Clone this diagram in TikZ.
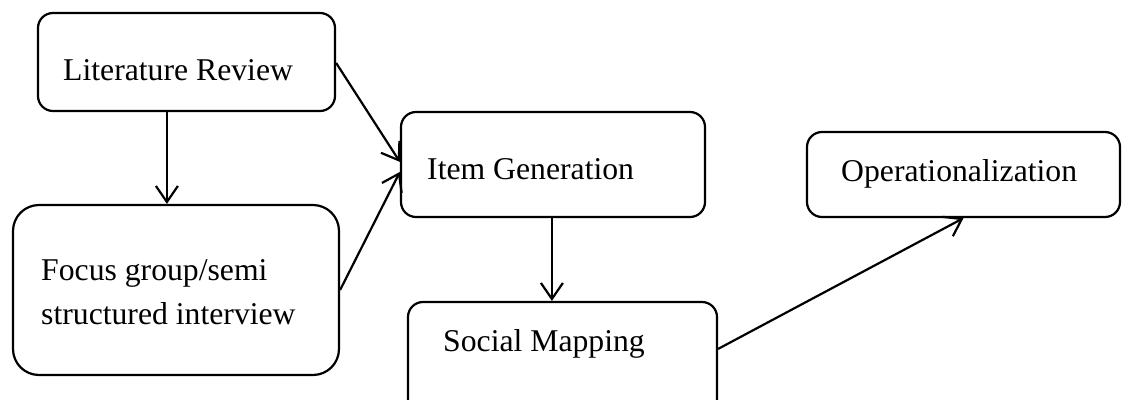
\documentclass[tikz,border=0pt]{standalone}
\usepackage{fontspec}
\setmainfont{Liberation Serif}
\usetikzlibrary{arrows.meta,calc}
\begin{document}
\begin{tikzpicture}[x=1pt,y=-1pt,
  box/.style={draw,line width=2.2pt,rectangle,rounded corners=15pt,inner sep=0pt},
  lbl/.style={anchor=base west,inner sep=0pt,font=\fontsize{31.7}{44}\selectfont},
  conn/.style={line width=2.2pt,-{Straight Barb[length=16pt,width=22pt,line width=2.2pt]}}]
\clip (0,0) rectangle (1122,399);
\useasboundingbox (0,0) rectangle (1122,399);
\node[box,minimum width=297pt,minimum height=98pt] (lit) at (186.5,62) {};
\node[box,rounded corners=26pt,minimum width=326pt,minimum height=170pt] (focus) at (176,290) {};
\node[box,minimum width=304pt,minimum height=105pt] (item) at (553,164.5) {};
\node[box,minimum width=309pt,minimum height=118pt] (social) at (562.5,361) {};
\node[box,minimum width=313pt,minimum height=85pt] (oper) at (963.5,174.5) {};
\node[lbl] (tlit) at (63,80) {Literature Review};
\node[lbl] (tfocus1) at (41,280) {Focus group/semi};
\node[lbl] (tfocus2) at (41,324) {structured interview};
\node[lbl] (titem) at (427,179) {Item Generation};
\node[lbl] (tsocial) at (443,351) {Social Mapping};
\node[lbl] (toper) at (841,181) {Operationalization};
\coordinate (a1) at ($(lit.south west)+(130,0)$);
\coordinate (a2) at ($(focus.north west)+(155,0)$);
\coordinate (b1) at ($(lit.north east)+(0,51)$);
\coordinate (b2) at ($(item.north west)+(0,51)$);
\coordinate (c2) at ($(item.north west)+(0,61)$);
\coordinate (d1) at ($(item.south west)+(152,0)$);
\coordinate (d2) at ($(social.north west)+(145,0)$);
\coordinate (e1) at ($(social.north east)+(0,48)$);
\draw[conn] (a1) -- (a2);
\draw[conn] (b1) -- (b2);
\draw[conn] (focus.east) -- (c2);
\draw[conn] (d1) -- (d2);
\draw[conn] (e1) -- (oper.south);
\end{tikzpicture}
\end{document}
